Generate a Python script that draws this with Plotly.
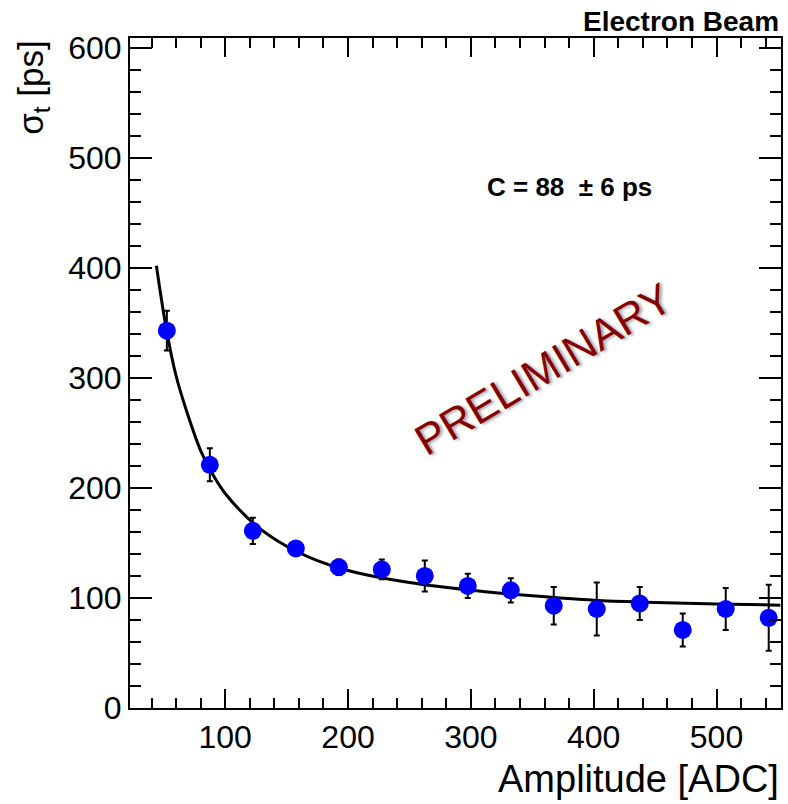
import plotly.graph_objects as go

# Data
amplitude = [52.5, 87.5, 122.5, 157.5, 192.5, 227.5, 262.5, 297.5, 332.5,
             367.5, 402.5, 437.5, 472.5, 507.5, 542.5]
sigma_t = [343, 221, 161, 145, 128, 126, 120, 111, 107, 93, 90, 95, 71, 90, 82]
sigma_err = [18, 15, 12, 6, 7, 9, 14, 11, 11, 17, 24, 15, 15, 19, 30]

# Fit curve values
fit_x = [44, 52, 60, 70, 80, 90, 100, 125, 150, 175, 200, 250, 300, 350,
         400, 450, 500, 552]
fit_y = [402, 345, 302, 265, 234, 212, 195, 166, 147, 134, 125, 114, 107,
         102, 98, 96, 94.5, 93.5]

xticks = [100, 200, 300, 400, 500]
yticks = [0, 100, 200, 300, 400, 500, 600]

FONT = "Liberation Sans, Arial, Helvetica, sans-serif"

fig = go.Figure()
fig.add_trace(go.Scatter(
    x=fit_x, y=fit_y, mode="lines", line=dict(color="black", width=3, shape="spline"),
    hoverinfo="skip", showlegend=False))
fig.add_trace(go.Scatter(
    x=amplitude, y=sigma_t, mode="markers",
    marker=dict(color="#0000ff", size=18),
    error_y=dict(type="data", array=sigma_err, color="black", thickness=2, width=3),
    showlegend=False))

axis_common = dict(
    showgrid=False, zeroline=False, showline=True, linecolor="black", linewidth=2,
    mirror="allticks", ticks="inside", tickcolor="black", tickwidth=2,
    tickfont=dict(family=FONT, size=32, color="black"),
)
fig.update_xaxes(range=[22.5, 552.5], tickvals=xticks, ticklen=19,
                 minor=dict(ticks="inside", dtick=20, tick0=0, ticklen=10,
                            tickcolor="black", tickwidth=2),
                 **axis_common)
fig.update_yaxes(range=[0, 609], tickvals=yticks, ticklen=22,
                 minor=dict(ticks="inside", dtick=20, tick0=0, ticklen=11,
                            tickcolor="black", tickwidth=2),
                 **axis_common)

fig.update_layout(
    width=788, height=804,
    margin=dict(l=130, r=5, t=38, b=96),
    plot_bgcolor="white", paper_bgcolor="white",
    font=dict(family=FONT, color="black"),
    annotations=[
        dict(text="<b>Electron Beam</b>", xref="paper", yref="paper", x=1.0, y=1.024,
             xanchor="right", yanchor="middle", showarrow=False,
             font=dict(size=28, family=FONT, color="black")),
        dict(text="<b>C = 88\u00a0\u00a0± 6 ps</b>", xref="x", yref="y", x=380, y=474,
             xanchor="center", yanchor="middle", showarrow=False,
             font=dict(size=26, family=FONT, color="black")),
        dict(text="PRELIMINARY", xref="x", yref="y", x=359, y=308,
             xanchor="center", yanchor="middle", showarrow=False, textangle=-31,
             font=dict(size=43, family=FONT, color="#850000",
                       shadow="2px 2px 3px rgba(0,0,0,0.35)")),
        dict(text="Amplitude [ADC]", xref="paper", yref="paper", x=1.0, y=-0.072,
             xanchor="right", yanchor="top", showarrow=False,
             font=dict(size=38, family=FONT, color="black")),
        dict(text="σ<sub>t</sub> [ps]", xref="paper", yref="paper", x=-0.15, y=1.0,
             xanchor="center", yanchor="top", showarrow=False, textangle=-90,
             font=dict(size=35, family=FONT, color="black")),
    ],
)

fig.write_html("out.html")
